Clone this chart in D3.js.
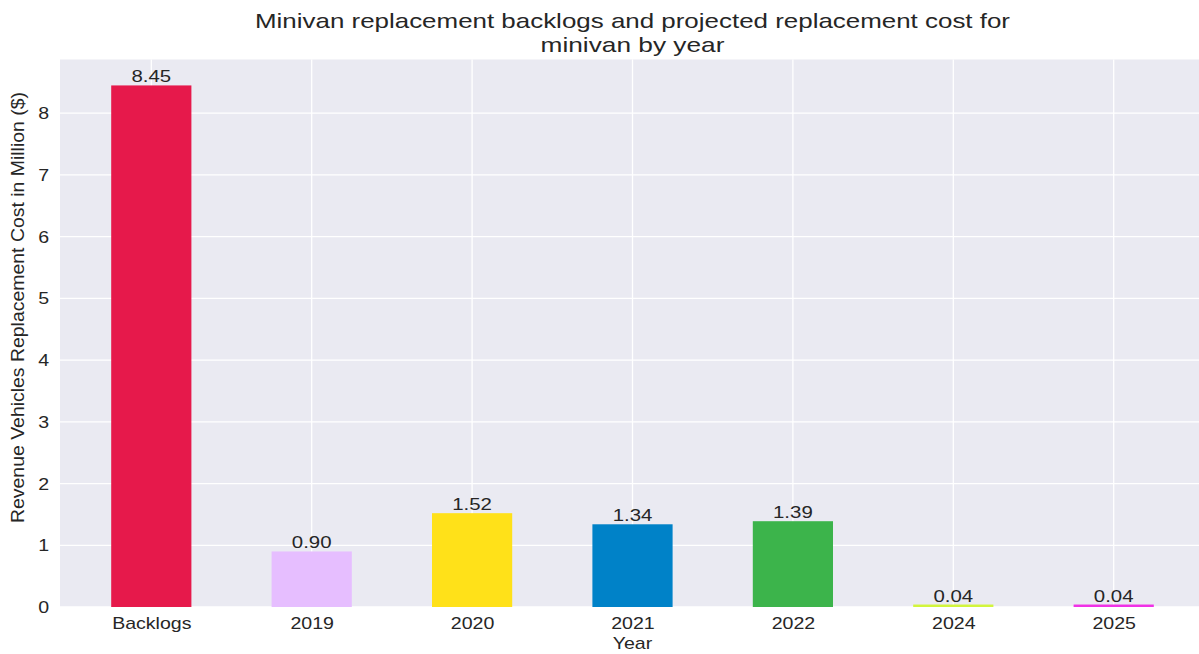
<!DOCTYPE html>
<html>
<head>
<meta charset="utf-8">
<script src="https://cdn.jsdelivr.net/npm/d3@7"></script>
<style>
  html, body { margin: 0; padding: 0; background: #fff; }
  svg { display: block; font-family: "Liberation Sans", Arial, sans-serif; }
</style>
</head>
<body>
<svg id="chart" width="1199" height="654"></svg>
<script>
const categories = ["Backlogs", "2019", "2020", "2021", "2022", "2024", "2025"];
const values = [8.45, 0.90, 1.52, 1.34, 1.39, 0.04, 0.04];
const barColors = ["#e6194b", "#e6beff", "#ffe119", "#0082c8", "#3cb44b", "#d2f53c", "#f032e6"];
const yTicks = [0, 1, 2, 3, 4, 5, 6, 7, 8];
const titleLines = ["Minivan replacement backlogs and projected replacement cost for", "minivan by year"];
const xLabel = "Year";
const yLabel = "Revenue Vehicles Replacement Cost in Million ($)";

const svg = d3.select("#chart");
const plot = { left: 60, right: 1199, top: 59.5, bottom: 607 };
const textColor = "#262626";
const FS = 17;

function stretch(sel, f) {
  sel.each(function () {
    const len = this.getComputedTextLength();
    d3.select(this).attr("textLength", len * f).attr("lengthAdjust", "spacingAndGlyphs");
  });
}

const x = d3.scalePoint().domain(categories).range([151.3, 1113.7]);
const barW = x.step() * 0.5;
const y = d3.scaleLinear().domain([0, 8.87]).range([plot.bottom, plot.top]);

// panel
svg.append("rect")
  .attr("x", plot.left).attr("y", plot.top)
  .attr("width", plot.right - plot.left).attr("height", plot.bottom - plot.top)
  .attr("fill", "#eaeaf2");

// grid
const g = svg.append("g");
g.selectAll("line.hy").data(yTicks).enter().append("line")
  .attr("x1", plot.left).attr("x2", plot.right)
  .attr("y1", d => y(d)).attr("y2", d => y(d))
  .attr("stroke", "#fff").attr("stroke-width", 1.3);
g.selectAll("line.vx").data(categories).enter().append("line")
  .attr("x1", d => x(d)).attr("x2", d => x(d))
  .attr("y1", plot.top).attr("y2", plot.bottom)
  .attr("stroke", "#fff").attr("stroke-width", 1.3);

// bars
const data = categories.map((c, i) => ({ c, v: values[i], col: barColors[i] }));
svg.selectAll("rect.bar").data(data).enter().append("rect")
  .attr("class", "bar")
  .attr("x", d => x(d.c) - barW / 2)
  .attr("width", barW)
  .attr("y", d => y(d.v))
  .attr("height", d => Math.max(plot.bottom - y(d.v), 0))
  .attr("fill", d => d.col);

// value labels
const vals = svg.selectAll("text.val").data(data).enter().append("text")
  .attr("x", d => x(d.c))
  .attr("y", d => y(d.v) - 3)
  .attr("text-anchor", "middle")
  .attr("font-size", FS)
  .attr("fill", textColor)
  .text(d => d.v.toFixed(2));
stretch(vals, 1.2);

// y axis
const yAxis = d3.axisLeft(y).tickValues(yTicks).tickSize(0).tickPadding(11).tickFormat(d3.format("d"));
const ya = svg.append("g").attr("transform", `translate(${plot.left},0)`).call(yAxis);
ya.select(".domain").remove();
ya.selectAll("text").attr("font-size", FS).attr("fill", textColor).attr("font-family", "Liberation Sans, Arial, sans-serif");
stretch(ya.selectAll("text"), 1.15);

// x axis
const xAxis = d3.axisBottom(x).tickSize(0).tickPadding(10);
const xa = svg.append("g").attr("transform", `translate(0,${plot.bottom})`).call(xAxis);
xa.select(".domain").remove();
xa.selectAll("text").attr("font-size", FS).attr("fill", textColor).attr("font-family", "Liberation Sans, Arial, sans-serif");
stretch(xa.selectAll("text"), 1.15);

// axis labels
const xl = svg.append("text")
  .attr("x", (plot.left + 1205) / 2).attr("y", 649)
  .attr("text-anchor", "middle").attr("font-size", FS).attr("fill", textColor)
  .text(xLabel);
stretch(xl, 1.15);

svg.append("text")
  .attr("transform", "translate(24,307.5) rotate(-90)")
  .attr("text-anchor", "middle").attr("font-size", 18).attr("fill", textColor)
  .attr("textLength", 431).attr("lengthAdjust", "spacingAndGlyphs")
  .text(yLabel);

// title
const tcx = (plot.left + 1205) / 2;
svg.append("text")
  .attr("x", tcx).attr("y", 28)
  .attr("text-anchor", "middle").attr("font-size", 21).attr("fill", textColor)
  .attr("textLength", 755).attr("lengthAdjust", "spacingAndGlyphs")
  .text(titleLines[0]);
const t2 = svg.append("text")
  .attr("x", tcx).attr("y", 52)
  .attr("text-anchor", "middle").attr("font-size", 21).attr("fill", textColor)
  .text(titleLines[1]);
stretch(t2, 1.25);
</script>
</body>
</html>
